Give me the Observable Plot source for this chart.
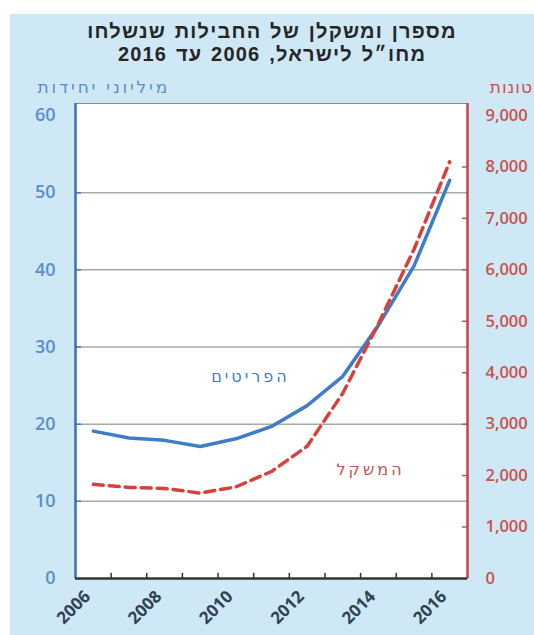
<!DOCTYPE html>
<html><head><meta charset="utf-8">
<script src="https://cdn.jsdelivr.net/npm/d3@7"></script>
<script src="https://cdn.jsdelivr.net/npm/@observablehq/plot@0.6"></script>
<style>
body{margin:0;background:#fff;}
#wrap{position:relative;width:534px;height:635px;overflow:hidden;background:#fff;}
#bg{position:absolute;left:10px;top:14px;width:524px;height:621px;background:#cfe8f6;}
.title{position:absolute;left:10px;width:524px;text-align:center;font:bold 20px "Liberation Sans",sans-serif;letter-spacing:1.2px;word-spacing:2px;line-height:23px;color:#262626;direction:rtl;white-space:nowrap}
.unit{position:absolute;top:77px;font:17px "DejaVu Sans",sans-serif;letter-spacing:2.8px;direction:rtl;white-space:nowrap}
#chart{position:absolute;left:0;top:0}
</style></head>
<body>
<div id="wrap">
  <div id="bg"></div>
  <div id="chart"></div>
  <div class="title" style="top:20px">מספרן ומשקלן של החבילות שנשלחו</div>
  <div class="title" style="top:43px">מחו״ל לישראל, 2006 עד 2016</div>
  <div class="unit" style="left:10px;width:160px;text-align:right;color:#5a8fcb">מיליוני יחידות</div>
  <div class="unit" style="left:470px;width:63px;text-align:right;letter-spacing:1px;color:#c9524c">טונות</div>
</div>
<script>
const years = [2006, 2007, 2008, 2009, 2010, 2011, 2012, 2013, 2014, 2015, 2016];
const items = [19.1, 18.2, 17.9, 17.1, 18.1, 19.7, 22.4, 26.2, 32.8, 40.5, 51.6];       // millions of units
const tonnes = [1830, 1770, 1750, 1660, 1780, 2080, 2570, 3600, 4950, 6400, 8100];    // tonnes
const leftTicks = [0, 10, 20, 30, 40, 50, 60];
const rightTicks = [0, 1000, 2000, 3000, 4000, 5000, 6000, 7000, 8000, 9000];
const yearLabels = [2006, 2008, 2010, 2012, 2014, 2016];
const seriesNames = ["הפריטים", "המשקל"];

const ratio = 150; // 9,000 tonnes ↔ 60 million units
const blue = "#3f7dc8", red = "#d7403b";
const data = years.map((y, i) => ({year: y, items: items[i], tonnes: tonnes[i]}));
const tickShape = {draw(ctx, l) { ctx.moveTo(0, 0); ctx.lineTo(0, -l); }};
const halfYears = years.slice(0, -1).map(y => y + 0.5);

const chart = Plot.plot({
  width: 534, height: 635,
  marginTop: 103, marginBottom: 57, marginLeft: 75, marginRight: 67,
  style: {background: "transparent", overflow: "visible", fontFamily: "'Open Sans', sans-serif"},
  x: {domain: [2005.5, 2016.5], label: null, axis: null},
  y: {domain: [0, 61.55], label: null},
  marks: [
    Plot.frame({fill: "white", stroke: "#8a8a8a", strokeWidth: 1}),
    Plot.ruleY([10, 20, 30, 40, 50], {stroke: "#a8a8a8", strokeWidth: 1.5}),
    Plot.axisY(leftTicks, {anchor: "left", tickSize: 0, tickPadding: 20, color: "#5a8fcb", fontSize: 18, fontWeight: 600, label: null}),
    Plot.axisY(rightTicks.map(t => t / ratio), {anchor: "right", tickSize: 0, tickPadding: 18, textAnchor: "start",
      tickFormat: d => d3.format(",")(Math.round(d * ratio)), color: "#c9524c", fontSize: 16.5, fontWeight: 600, label: null}),
    Plot.text(yearLabels, {x: d => d, frameAnchor: "bottom", text: d => String(d), rotate: -45, textAnchor: "end",
      dx: -2, dy: 19, fill: "#2f4254", fontSize: 17, fontWeight: 700}),
    Plot.vector([10, 20, 30, 40, 50], {y: d => d, frameAnchor: "left", length: 5, rotate: 90, anchor: "start", shape: tickShape, stroke: blue, strokeWidth: 1.5}),
    Plot.vector(rightTicks.slice(1, -1).map(t => t / ratio), {y: d => d, frameAnchor: "right", length: 5, rotate: -90, anchor: "start", shape: tickShape, stroke: "#c9524c", strokeWidth: 1.5}),
    Plot.vector(halfYears, {x: d => d, frameAnchor: "bottom", length: 5, rotate: 0, anchor: "start", shape: tickShape, stroke: "#333", strokeWidth: 1.5}),
    Plot.ruleX([2005.5], {stroke: "#3a6fb4", strokeWidth: 2.5}),
    Plot.ruleX([2016.5], {stroke: "#c9424a", strokeWidth: 2.5}),
    Plot.ruleY([0], {stroke: "#333", strokeWidth: 2.5}),
    Plot.line(data, {x: "year", y: "items", stroke: blue, strokeWidth: 3.5}),
    Plot.line(data, {x: "year", y: d => d.tonnes / ratio, stroke: red, strokeWidth: 3.5, strokeDasharray: "10,6"}),
    Plot.text([seriesNames[0]], {x: 2010.41, y: 26.1, text: d => d, fill: blue, fontSize: 16, fontFamily: "'DejaVu Sans', sans-serif"}),
    Plot.text([seriesNames[1]], {x: 2013.78, y: 14.1, text: d => d, fill: "#c9524c", fontSize: 16, fontFamily: "'DejaVu Sans', sans-serif"})
  ]
});
// widen the series labels' letter spacing like the reference font
d3.select(chart).selectAll("text").filter(function() { return seriesNames.includes(this.textContent); })
  .style("letter-spacing", "3px");
document.getElementById("chart").appendChild(chart);
</script>
</body></html>
